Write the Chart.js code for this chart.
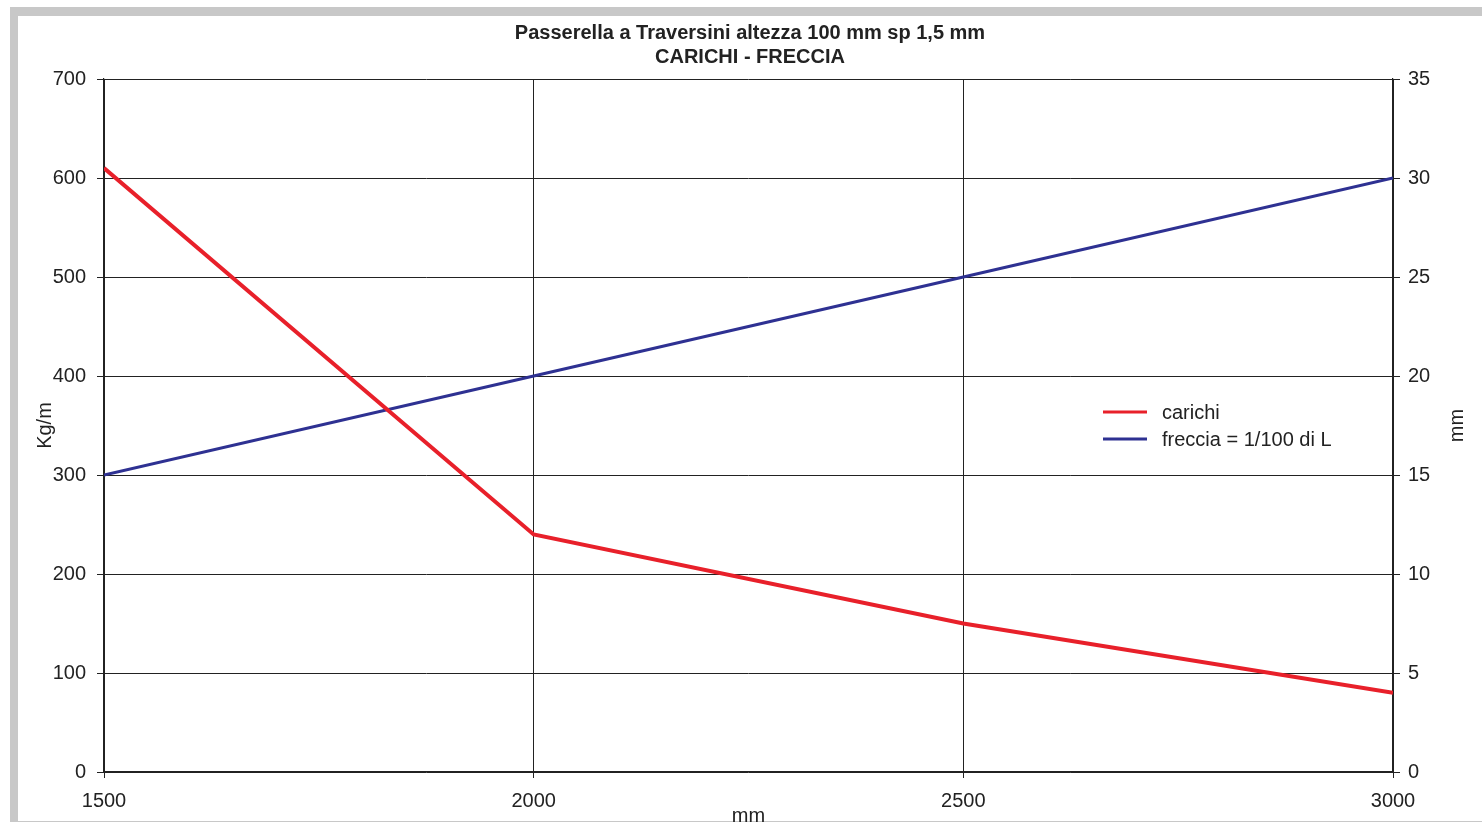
<!DOCTYPE html>
<html>
<head>
<meta charset="utf-8">
<script src="https://cdn.jsdelivr.net/npm/chart.js@4"></script>
<style>
    body { margin: 0; background: #fff; }
    #frame {
        position: absolute; left: 10px; top: 7px;
        width: 1472px; height: 815px;
        border-left: 8px solid #c8c8c8;
        border-top: 9px solid #c8c8c8;
        border-bottom: 1px solid #c8c8c8;
        box-sizing: border-box;
    }
    #wrap { position: absolute; left: 0; top: 0; width: 1464px; height: 814px; }
</style>
</head>
<body>
<div id="frame"><div id="wrap"><canvas id="chart"></canvas></div></div>
<script>
// dati del grafico
const titleLines = ['Passerella a Traversini altezza 100 mm sp 1,5 mm', 'CARICHI - FRECCIA'];
const luce = [1500, 2000, 2500, 3000];           // mm
const carichi = [610, 240, 150, 80];             // Kg/m
const freccia = [15, 20, 25, 30];                // mm
const labelCarichi = 'carichi';
const labelFreccia = 'freccia = 1/100 di L';
const xTicks = [1500, 2000, 2500, 3000];
const yLeftTicks = [0, 100, 200, 300, 400, 500, 600, 700];
const yRightTicks = [0, 5, 10, 15, 20, 25, 30, 35];
const xTitle = 'mm', yLeftTitle = 'Kg/m', yRightTitle = 'mm';

const FONT = '"Liberation Sans", Arial, Helvetica, sans-serif';
const SIZE = 20;
const TXT = '#222';
const GRID = '#222';

// legenda dentro l'area del grafico
const legendInside = {
    id: 'legendInside',
    afterDraw(chart) {
        const ctx = chart.ctx;
        const x0 = 1103 - 18, y0 = 412 - 16;
        ctx.save();
        ctx.font = SIZE + 'px ' + FONT;
        ctx.textBaseline = 'middle';
        chart.data.datasets.forEach((ds, i) => {
            const y = y0 + i * 27;
            ctx.strokeStyle = ds.borderColor;
            ctx.lineWidth = 3;
            ctx.beginPath();
            ctx.moveTo(x0, y);
            ctx.lineTo(x0 + 44, y);
            ctx.stroke();
            ctx.fillStyle = TXT;
            ctx.fillText(ds.label, x0 + 59, y + 1);
        });
        ctx.restore();
    }
};

// titoli degli assi (entrambi quelli verticali letti dal basso verso l'alto)
const axisTitles = {
    id: 'axisTitles',
    afterDraw(chart) {
        const ctx = chart.ctx;
        const a = chart.chartArea;
        const midY = (a.top + a.bottom) / 2;
        ctx.save();
        ctx.font = SIZE + 'px ' + FONT;
        ctx.fillStyle = TXT;
        ctx.textAlign = 'center';
        ctx.textBaseline = 'middle';
        ctx.fillText(xTitle, (a.left + a.right) / 2, 816 - 16);
        [[45 - 18, yLeftTitle], [1457 - 18, yRightTitle]].forEach(([x, t]) => {
            ctx.save();
            ctx.translate(x, midY);
            ctx.rotate(-Math.PI / 2);
            ctx.fillText(t, 0, 0);
            ctx.restore();
        });
        ctx.restore();
    }
};

const ctx = document.getElementById('chart').getContext('2d');
new Chart(ctx, {
    type: 'line',
    data: {
        datasets: [{
            label: labelCarichi,
            data: luce.map((x, i) => ({ x: x, y: carichi[i] })),
            borderColor: '#e8202a',
            borderWidth: 4,
            pointRadius: 0,
            yAxisID: 'y'
        }, {
            label: labelFreccia,
            data: luce.map((x, i) => ({ x: x, y: freccia[i] })),
            borderColor: '#2e3192',
            borderWidth: 3,
            pointRadius: 0,
            yAxisID: 'y1'
        }]
    },
    options: {
        responsive: true,
        maintainAspectRatio: false,
        animation: false,
        layout: { padding: 0 },
        plugins: {
            legend: { display: false },
            tooltip: { enabled: false },
            title: {
                display: true,
                text: titleLines,
                color: TXT,
                font: { family: FONT, size: SIZE, weight: 'bold', lineHeight: 1.2 },
                padding: { top: 5, bottom: 10 }
            }
        },
        scales: {
            x: {
                type: 'linear',
                min: 1500, max: 3000,
                afterBuildTicks: s => { s.ticks = xTicks.map(v => ({ value: v })); },
                afterFit: s => { s.height = 58; },
                grid: { color: GRID, lineWidth: 1, tickLength: 6 },
                border: { color: GRID, width: 1.2 },
                ticks: {
                    color: TXT, font: { family: FONT, size: SIZE }, padding: 11, maxRotation: 0,
                    callback: v => String(v)
                }
            },
            y: {
                position: 'left',
                min: 0, max: 700,
                afterBuildTicks: s => { s.ticks = yLeftTicks.map(v => ({ value: v })); },
                afterFit: s => { s.width = 86; },
                grid: { color: GRID, lineWidth: 1, tickLength: 7 },
                border: { color: GRID, width: 1.2 },
                ticks: { color: TXT, font: { family: FONT, size: SIZE }, padding: 11 }
            },
            y1: {
                position: 'right',
                min: 0, max: 35,
                afterBuildTicks: s => { s.ticks = yRightTicks.map(v => ({ value: v })); },
                afterFit: s => { s.width = 89; },
                grid: { drawOnChartArea: false, color: GRID, lineWidth: 1, tickLength: 7 },
                border: { color: GRID, width: 1.2 },
                ticks: { color: TXT, font: { family: FONT, size: SIZE }, padding: 8 }
            }
        }
    },
    plugins: [legendInside, axisTitles]
});
</script>
</body>
</html>
